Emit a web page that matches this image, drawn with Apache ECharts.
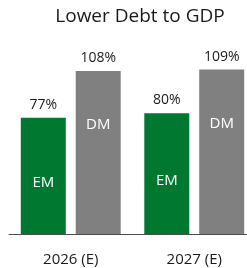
<!DOCTYPE html>
<html><head><meta charset="utf-8">
<script src="https://cdn.jsdelivr.net/npm/echarts@6/dist/echarts.min.js"></script>
<style>html,body{margin:0;padding:0;background:#fff;overflow:hidden}#c{width:256px;height:268px}</style>
</head><body><div id="c"></div>
<script>
const title = 'Lower Debt to GDP';
const categories = ['2026 (E)', '2027 (E)'];
const emValues = [77, 80];
const dmValues = [108, 109];
const seriesNames = ['EM', 'DM'];

const font = 'Open Sans';
const chart = echarts.init(document.getElementById('c'), null, {renderer: 'canvas'});
const barCommon = {type: 'bar', barWidth: 45, barGap: '22%', animation: false};
chart.setOption({
  animation: false,
  title: {text: title, left: 135, top: 2, textAlign: 'center',
    textStyle: {fontFamily: font, fontSize: 19, fontWeight: 'normal', color: '#1a1a1a'}},
  grid: {left: 9, right: 0, top: 53, bottom: 34},
  xAxis: [
    {type: 'category', data: categories, axisTick: {show: false},
      axisLine: {lineStyle: {color: '#4d4d4d', width: 1}},
      axisLabel: {fontFamily: font, fontSize: 15, color: '#1a1a1a', margin: 18}},
    {type: 'category', data: categories, show: false}
  ],
  yAxis: {type: 'value', min: 0, max: 120, show: false, splitLine: {show: false}},
  series: [
    Object.assign({}, barCommon, {name: seriesNames[0], data: emValues, xAxisIndex: 0,
      itemStyle: {color: '#00782f'},
      label: {show: true, position: 'top', distance: 6, formatter: '{c}%',
        fontFamily: font, fontSize: 14, color: '#1a1a1a'}}),
    Object.assign({}, barCommon, {name: seriesNames[1], data: dmValues, xAxisIndex: 0,
      itemStyle: {color: '#808080'},
      label: {show: true, position: 'top', distance: 6, formatter: '{c}%',
        fontFamily: font, fontSize: 14, color: '#1a1a1a'}}),
    Object.assign({}, barCommon, {name: seriesNames[0] + ' label', data: emValues, xAxisIndex: 1,
      itemStyle: {color: 'rgba(0,0,0,0)'}, silent: true,
      label: {show: true, position: ['50%', '56%'], align: 'center', verticalAlign: 'middle',
        formatter: seriesNames[0], fontFamily: font, fontSize: 15, color: '#ffffff'}}),
    Object.assign({}, barCommon, {name: seriesNames[1] + ' label', data: dmValues, xAxisIndex: 1,
      itemStyle: {color: 'rgba(0,0,0,0)'}, silent: true,
      label: {show: true, position: ['50%', '33%'], align: 'center', verticalAlign: 'middle',
        formatter: seriesNames[1], fontFamily: font, fontSize: 15, color: '#ffffff'}})
  ]
});
</script></body></html>
